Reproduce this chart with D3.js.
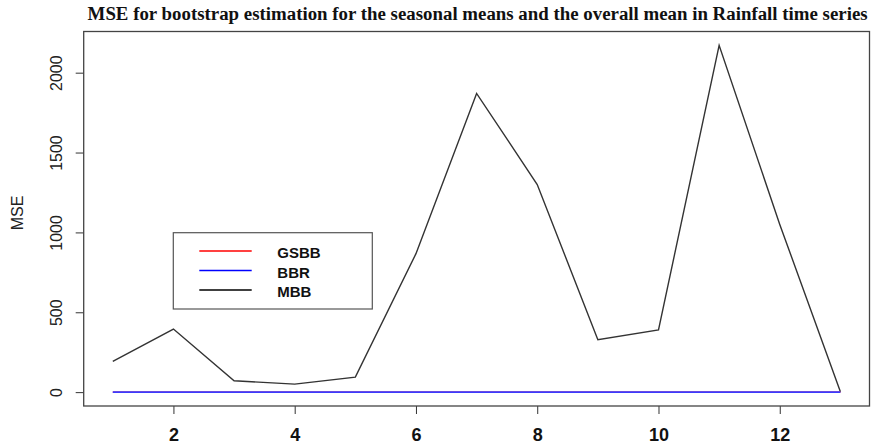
<!DOCTYPE html>
<html>
<head>
<meta charset="utf-8">
<script src="https://cdn.jsdelivr.net/npm/d3@7"></script>
<style>
  body { margin: 0; background: #fff; }
  svg { display: block; }
</style>
</head>
<body>
<div id="graphic"></div>
<script>
// time points (12 seasons + overall mean)
var points = [1, 2, 3, 4, 5, 6, 7, 8, 9, 10, 11, 12, 13];
var gsbb = [0.5, 0.5, 0.5, 0.5, 0.5, 0.5, 0.5, 0.5, 0.5, 0.5, 0.5, 0.5, 0.5];
var bbr  = [0.5, 0.5, 0.5, 0.5, 0.5, 0.5, 0.5, 0.5, 0.5, 0.5, 0.5, 0.5, 0.5];
var mbb  = [192, 395, 71, 50, 94, 867, 1870, 1300, 328, 390, 2171, 1050, 3];
var xTicks = [2, 4, 6, 8, 10, 12];
var yTicks = [0, 500, 1000, 1500, 2000];
var seriesNames = ["GSBB", "BBR", "MBB"];
var seriesColors = ["#ff0000", "#0000ff", "#000000"];

var W = 885, H = 444;
var box = {left: 83.7, right: 869.5, top: 31.5, bottom: 406};

var svg = d3.select("#graphic").append("svg")
    .attr("width", W)
    .attr("height", H);

// R style 4% padding on both axes
var xmin = d3.min(points), xmax = d3.max(points);
var xpad = (xmax - xmin) * 0.04;
var allY = gsbb.concat(bbr, mbb);
var ymin = Math.min(0, d3.min(allY)), ymax = d3.max(allY);
var ypad = (ymax - ymin) * 0.04;

var x = d3.scaleLinear()
    .domain([xmin - xpad, xmax + xpad])
    .range([box.left, box.right]);
var y = d3.scaleLinear()
    .domain([ymin - ypad, ymax + ypad])
    .range([box.bottom, box.top]);

// title
svg.append("text")
    .attr("x", (box.left + box.right) / 2 + 1)
    .attr("y", 20)
    .attr("text-anchor", "middle")
    .attr("textLength", 780)
    .attr("lengthAdjust", "spacingAndGlyphs")
    .style("font-family", "'Liberation Serif', 'DejaVu Serif', serif")
    .style("font-weight", "bold")
    .style("font-size", "18px")
    .style("fill", "#111")
    .text("MSE for bootstrap estimation for the seasonal means and the overall mean in Rainfall time series");

// x axis
var xAxis = svg.append("g")
    .attr("transform", "translate(0," + box.bottom + ")")
    .call(d3.axisBottom(x).tickValues(xTicks).tickFormat(d3.format("d"))
        .tickSize(8).tickSizeOuter(0).tickPadding(14));
xAxis.select(".domain").remove();
xAxis.selectAll("line").attr("stroke", "#333");
xAxis.selectAll("text")
    .style("font-family", "'Liberation Sans', Arial, sans-serif")
    .style("font-weight", "bold")
    .style("font-size", "18px")
    .style("fill", "#111");

// y axis
var yAxis = svg.append("g")
    .attr("transform", "translate(" + box.left + ",0)")
    .call(d3.axisLeft(y).tickValues(yTicks).tickFormat(d3.format("d"))
        .tickSize(8).tickSizeOuter(0));
yAxis.select(".domain").remove();
yAxis.selectAll("line").attr("stroke", "#333");
yAxis.selectAll("text")
    .attr("x", 0).attr("dy", null)
    .attr("text-anchor", "middle")
    .attr("transform", "translate(-22,0) rotate(-90)")
    .style("font-family", "'Liberation Sans', Arial, sans-serif")
    .style("font-size", "16px")
    .style("fill", "#222");

// y label
svg.append("text")
    .attr("transform", "translate(23,213) rotate(-90)")
    .attr("text-anchor", "middle")
    .style("font-family", "'Liberation Sans', Arial, sans-serif")
    .style("font-size", "16px")
    .style("fill", "#222")
    .text("MSE");

// plot box
svg.append("rect")
    .attr("x", box.left).attr("y", box.top)
    .attr("width", box.right - box.left)
    .attr("height", box.bottom - box.top)
    .attr("fill", "none")
    .attr("stroke", "#444")
    .attr("stroke-width", 1.3);

var line = d3.line()
    .x(function(d, i) { return x(points[i]); })
    .y(function(d) { return y(d); });

// MBB first, then GSBB and BBR on top
svg.append("path").datum(mbb)
    .attr("d", line).attr("fill", "none")
    .attr("stroke", "#333").attr("stroke-width", 1.4);
svg.append("path").datum(gsbb)
    .attr("d", line).attr("fill", "none")
    .attr("stroke", seriesColors[0]).attr("stroke-width", 1.2);
svg.append("path").datum(bbr)
    .attr("d", line).attr("fill", "none")
    .attr("stroke", "#3a3aff").attr("stroke-width", 1.8);

// legend
var leg = svg.append("g");
leg.append("rect")
    .attr("x", 173.3).attr("y", 232.7)
    .attr("width", 199).attr("height", 76.3)
    .attr("fill", "#fff").attr("stroke", "#555").attr("stroke-width", 1.2);
seriesNames.forEach(function(name, i) {
    var ly = 251 + i * 19.5;
    leg.append("line")
        .attr("x1", 199.3).attr("x2", 251.7)
        .attr("y1", ly).attr("y2", ly)
        .attr("stroke", seriesColors[i]).attr("stroke-width", 1.6);
    leg.append("text")
        .attr("x", 277.3).attr("y", ly + 7)
        .style("font-family", "'Liberation Sans', Arial, sans-serif")
        .style("font-weight", "bold")
        .style("font-size", "15px")
        .style("fill", "#111")
        .text(name);
});
</script>
</body>
</html>
